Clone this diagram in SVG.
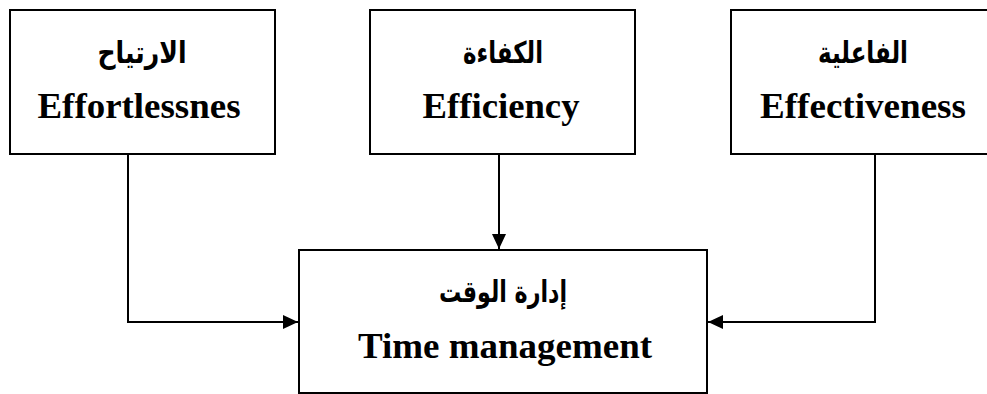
<svg xmlns="http://www.w3.org/2000/svg" width="987" height="394" viewBox="0 0 987 394">
<style>
.box{fill:#fff;stroke:#000;stroke-width:2}
.en{font-family:"Liberation Serif","Times New Roman",serif;font-weight:bold;font-size:35px;fill:#000;text-anchor:middle}
.ar{font-family:"DejaVu Sans",sans-serif;font-weight:bold;font-size:30px;fill:#000;text-anchor:middle}
.line{fill:none;stroke:#000;stroke-width:2}
</style>
<defs>
<marker id="arr" viewBox="0 0 15 14" refX="15" refY="7" markerWidth="15" markerHeight="14" markerUnits="userSpaceOnUse" orient="auto">
<path d="M0,0 L15,7 L0,14 Z" fill="#000"/>
</marker>
</defs>
<g id="node-effortlessness">
<rect class="box" x="10" y="10" width="265" height="144"/>
<text class="ar" x="142" y="63" direction="rtl" textLength="89" lengthAdjust="spacingAndGlyphs">الارتياح</text>
<text class="en" x="139" y="118" textLength="203" lengthAdjust="spacingAndGlyphs">Effortlessnes</text>
</g>
<g id="node-efficiency">
<rect class="box" x="370" y="10" width="265" height="144"/>
<text class="ar" x="503" y="63" direction="rtl" textLength="80" lengthAdjust="spacingAndGlyphs">الكفاءة</text>
<text class="en" x="501" y="118" textLength="157" lengthAdjust="spacingAndGlyphs">Efficiency</text>
</g>
<g id="node-effectiveness">
<rect class="box" x="731" y="10" width="270" height="144"/>
<text class="ar" x="863" y="63" direction="rtl" textLength="90" lengthAdjust="spacingAndGlyphs">الفاعلية</text>
<text class="en" x="863" y="118" textLength="206" lengthAdjust="spacingAndGlyphs">Effectiveness</text>
</g>
<g id="node-time-management">
<rect class="box" x="299" y="250" width="408" height="143"/>
<text class="ar" x="503" y="302" direction="rtl" textLength="128" lengthAdjust="spacingAndGlyphs">إدارة الوقت</text>
<text class="en" x="505" y="358" textLength="294" lengthAdjust="spacingAndGlyphs">Time management</text>
</g>
<g id="connectors">
<polyline class="line" points="128,154 128,322 298,322" marker-end="url(#arr)"/>
<line class="line" x1="499" y1="154" x2="499" y2="249" marker-end="url(#arr)"/>
<polyline class="line" points="875,154 875,322 708,322" marker-end="url(#arr)"/>
</g>
</svg>
